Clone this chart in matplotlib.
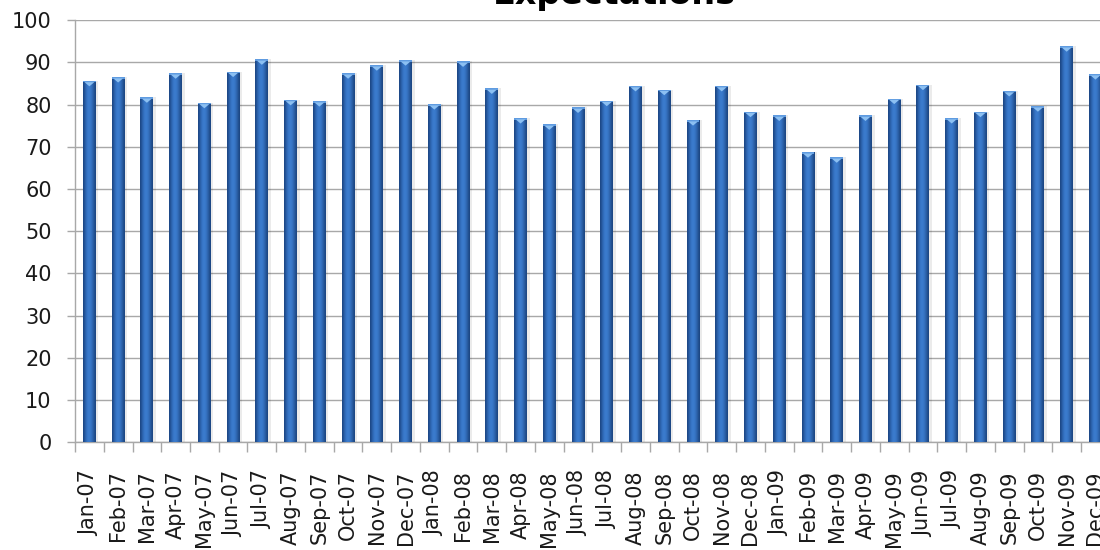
import numpy as np
import matplotlib
matplotlib.use("Agg")
import matplotlib.pyplot as plt
from matplotlib.patches import Polygon, Rectangle
from matplotlib.ticker import FixedLocator

# Monthly expectations index, Jan 2007 - Dec 2009
months = ["Jan-07", "Feb-07", "Mar-07", "Apr-07", "May-07", "Jun-07",
          "Jul-07", "Aug-07", "Sep-07", "Oct-07", "Nov-07", "Dec-07",
          "Jan-08", "Feb-08", "Mar-08", "Apr-08", "May-08", "Jun-08",
          "Jul-08", "Aug-08", "Sep-08", "Oct-08", "Nov-08", "Dec-08",
          "Jan-09", "Feb-09", "Mar-09", "Apr-09", "May-09", "Jun-09",
          "Jul-09", "Aug-09", "Sep-09", "Oct-09", "Nov-09", "Dec-09"]
expectations = [85.6, 86.5, 81.7, 87.4, 80.4, 87.8,
                90.7, 81.1, 80.8, 87.4, 89.3, 90.5,
                80.1, 90.2, 83.8, 76.8, 75.3, 79.3,
                80.9, 84.4, 83.5, 76.3, 84.4, 78.3,
                77.4, 68.7, 67.5, 77.4, 81.4, 84.7,
                76.8, 78.3, 83.2, 79.6, 93.8, 87.2]
y_ticks = list(range(0, 101, 10))

plt.rcParams["font.family"] = ["DejaVu Sans"]

fig = plt.figure(figsize=(11, 5.5), dpi=100)
ax = fig.add_axes([0.0682, 0.1955, 0.9407, 0.7681])

grid_color = "#a8a8a8"
x = np.arange(len(months))
bar_w = 0.45

# soft drop shadow to the right of each column
ax.bar(x + 0.07, expectations, width=bar_w + 0.04, color="#000000",
       alpha=0.08, zorder=2.5, linewidth=0)

bars = ax.bar(x, expectations, width=bar_w, color="#2f67b3", zorder=3,
              linewidth=0)

# horizontal shading across each column for a cylindrical look
profile = np.array([
    [0x1c, 0x47, 0x85],
    [0x29, 0x5e, 0xa6],
    [0x33, 0x6e, 0xbe],
    [0x3a, 0x7a, 0xcc],
    [0x3c, 0x7c, 0xce],
    [0x38, 0x76, 0xc6],
    [0x30, 0x68, 0xb3],
    [0x27, 0x59, 0x9c],
    [0x1c, 0x47, 0x83],
]) / 255.0
grad = profile[np.newaxis, :, :]

for b in bars:
    x0, w, h = b.get_x(), b.get_width(), b.get_height()
    im = ax.imshow(grad, extent=[x0, x0 + w, 0, h], aspect="auto",
                   interpolation="bicubic", zorder=3.1)
    im.set_clip_path(b)
    # lighter bevelled top face
    cap_h = 1.3
    ax.add_patch(Rectangle((x0, h - 0.35), w, 0.35, facecolor="#5f9be0",
                           edgecolor="none", zorder=3.2))
    ax.add_patch(Polygon([(x0 + 0.12 * w, h - 0.3), (x0 + 0.88 * w, h - 0.3),
                          (x0 + 0.5 * w, h - cap_h)], closed=True,
                         facecolor="#8cc0f2", edgecolor="none", zorder=3.3))

ax.set_xlim(-0.5, len(months) - 0.5)
ax.set_ylim(0, 100)

ax.set_yticks(y_ticks)
ax.yaxis.grid(True, color=grid_color, linewidth=1.0, zorder=0)
ax.set_axisbelow(True)
ax.tick_params(axis="y", length=5.8, width=1, color=grid_color, pad=11,
               labelsize=15, labelcolor="#1a1a1a")

ax.set_xticks(x)
ax.set_xticklabels(months, rotation=90, ha="center", va="top")
ax.xaxis.set_minor_locator(FixedLocator(np.arange(-0.5, len(months), 1.0)))
ax.tick_params(axis="x", which="major", length=0, pad=20, labelsize=15,
               labelcolor="#1a1a1a")
ax.tick_params(axis="x", which="minor", length=7.2, width=1, color=grid_color)

for side in ("top", "right"):
    ax.spines[side].set_visible(False)
for side in ("left", "bottom"):
    ax.spines[side].set_color(grid_color)
    ax.spines[side].set_linewidth(1.0)

fig.text(614 / 1100, 1 - 4 / 550, "Expectations", ha="center",
         va="baseline", fontsize=24, fontweight="bold", color="#000000")

fig.savefig("out.png", dpi=100)
